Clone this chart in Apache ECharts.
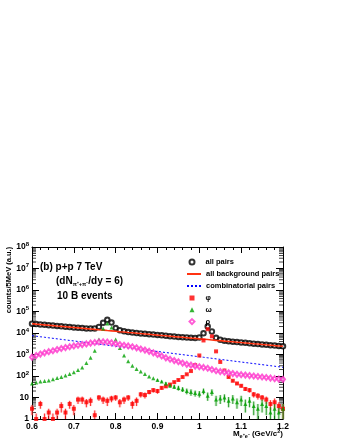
<!DOCTYPE html>
<html><head><meta charset="utf-8">
<script src="https://cdn.jsdelivr.net/npm/echarts@6/dist/echarts.min.js"></script>
<style>html,body{margin:0;padding:0;background:#fff;}#c{width:340px;height:440px;}</style>
</head><body><div id="c"></div>
<script>
const mass = [0.60,0.61,0.62,0.63,0.64,0.65,0.66,0.67,0.68,0.69,
  0.70,0.71,0.72,0.73,0.74,0.75,0.76,0.77,0.78,0.79,
  0.80,0.81,0.82,0.83,0.84,0.85,0.86,0.87,0.88,0.89,
  0.90,0.91,0.92,0.93,0.94,0.95,0.96,0.97,0.98,0.99,
  1.00,1.01,1.02,1.03,1.04,1.05,1.06,1.07,1.08,1.09,
  1.10,1.11,1.12,1.13,1.14,1.15,1.16,1.17,1.18,1.19,1.20];
const allPairs = [27000,25900,24900,23900,23000,22100,21200,20400,19600,18800,
  18200,17500,16900,16300,16000,16200,19100,29600,41000,30500,
  17000,13500,12000,11100,10500,10000,9600,9200,8800,8450,
  8100,7760,7450,7140,6850,6600,6400,6200,6000,5900,
  6250,9650,19950,11750,5950,4850,4400,4150,3960,3790,
  3630,3480,3330,3190,3070,2950,2830,2720,2610,2510,2410];
const allBackground = [26900,25800,24800,23800,22900,22000,21100,20300,19500,18700,
  18000,17300,16600,15900,15300,14700,14100,13600,13000,12500,
  12000,11500,11100,10600,10200,9800,9400,9050,8700,8350,
  8000,7700,7400,7100,6800,6550,6300,6050,5800,5600,
  5350,5150,4950,4750,4550,4400,4200,4050,3900,3740,
  3590,3450,3310,3180,3060,2940,2820,2710,2600,2500,2400];
const combinatorial = [7500,7090,6700,6340,5990,5660,5350,5060,4780,4520,
  4270,4040,3810,3600,3410,3220,3040,2880,2720,2570,
  2430,2300,2170,2050,1940,1830,1730,1640,1550,1460,
  1380,1310,1230,1170,1100,1040,985,930,880,830,
  785,743,702,664,627,593,560,530,500,473,
  447,423,399,378,357,337,319,301,285,269,254];
const phi = [3,1,5,1,2,1,2,4,2,5,
  3,8,8,6,7,1.5,10,8,7,9,
  10,6,8,10,5,7,14,13,18,22,
  20,28,33,40,52,65,90,120,170,320,
  900,4500,15000,7000,1400,450,180,90,60,45,
  35,25,22,14,12,10,8,5,6,4,3];
const phiErr = [1.5,0.8,2,0.8,1,0.8,1,2,1,2,
  1.5,3,3,2.5,3,1,3,3,3,3,
  3,2.5,3,3,2,3,4,4,4,5,
  5,5,5,6,6,7,8,9,10,15,
  25,60,100,70,30,18,12,9,8,7,
  6,5,5,4,4,3,3,2.5,3,2,2];
const omega = [45,50,55,58,62,70,80,90,105,125,
  150,190,250,400,700,1500,5000,16000,28000,18000,
  5000,2000,900,480,300,210,160,125,95,78,
  65,55,45,36,32,28,24,20,18,16,
  15,20,12,18,8,9,10,7,9,6,
  8,5,7,4,3,5,4,2,3,2,3];
const omegaErr = [0,0,0,0,0,0,0,0,0,0,
  0,0,0,0,0,0,0,0,0,0,
  0,0,0,0,0,0,0,0,0,0,
  6,6,8,8,7,7,6,6,6,5,
  5,6,5,6,4,4,4,3.5,4,3,
  4,3,3.5,2.5,2,3,2.5,1.5,2,1.5,2];
const rho = [750,900,1050,1200,1350,1500,1700,1900,2100,2300,
  2500,2700,2900,3100,3400,3600,3800,3900,3800,3500,
  3200,2900,2700,2500,2300,2050,1800,1600,1400,1200,
  1000,850,700,600,520,460,400,350,320,290,
  270,250,230,200,175,160,150,140,130,120,
  115,110,105,100,95,90,85,80,75,72,70];
const seriesNames = ['all pairs','all background pairs','combinatorial pairs','φ','ω','ρ'];

const FONT = '"Liberation Sans", Arial, Helvetica, sans-serif';
const pairs = arr => mass.map((m, i) => [m, arr[i]]);

// log minor ticks (2..9 x 10^k)
const minorVals = [];
for (let k = 0; k < 8; k++) for (let j = 2; j <= 9; j++) minorVals.push(j * Math.pow(10, k));

function errSeries(vals, errs, lineColor, boxColor) {
  return {
    type: 'custom', silent: true, z: 1, xAxisIndex: 0, yAxisIndex: 0,
    data: mass.map((m, i) => [m, vals[i], errs[i]]),
    renderItem(params, api) {
      const m = api.value(0), v = api.value(1), e = api.value(2);
      if (!e) return null;
      const lo = Math.max(v - e, 1), hi = v + e;
      const p1 = api.coord([m, lo]), p2 = api.coord([m, hi]);
      return {type: 'group', children: [
        {type: 'rect', shape: {x: p1[0] - 1.5, y: p2[1], width: 3, height: p1[1] - p2[1]}, style: {fill: boxColor}},
        {type: 'line', shape: {x1: p1[0], y1: p1[1], x2: p2[0], y2: p2[1]}, style: {stroke: lineColor, lineWidth: 0.8}}
      ]};
    }
  };
}

const chart = echarts.init(document.getElementById('c'), null, {renderer: 'canvas'});
const axisCommon = {
  axisLine: {show: true, onZero: false, lineStyle: {color: '#000', width: 1}},
  splitLine: {show: false}
};
const legendText = {fontSize: 7.5, fontWeight: 'bold', fontFamily: FONT, color: '#000', lineHeight: 10};
const option = {
  animation: false,
  backgroundColor: '#fff',
  grid: {left: 32, right: 57, top: 247, bottom: 21, containLabel: false},
  xAxis: [
    Object.assign({
      type: 'value', min: 0.6, max: 1.2, interval: 0.1, position: 'bottom',
      axisTick: {show: true, inside: true, length: 6, lineStyle: {color: '#000'}},
      minorTick: {show: true, splitNumber: 5, length: 3, lineStyle: {color: '#000'}},
      axisLabel: {fontSize: 8.5, fontWeight: 'bold', fontFamily: FONT, color: '#000', margin: 3,
        formatter: v => String(Math.round(v * 10) / 10)}
    }, axisCommon),
    Object.assign({
      type: 'value', min: 0.6, max: 1.2, interval: 0.1, position: 'top',
      axisTick: {show: true, inside: true, length: 6, lineStyle: {color: '#000'}},
      minorTick: {show: true, splitNumber: 5, length: 3, lineStyle: {color: '#000'}},
      axisLabel: {show: false}
    }, axisCommon)
  ],
  yAxis: [
    Object.assign({
      type: 'log', logBase: 10, min: 1, max: 1e8, splitNumber: 8, position: 'left',
      axisTick: {show: true, inside: true, length: 7, lineStyle: {color: '#000'}},
      axisLabel: {fontSize: 8.5, fontWeight: 'bold', fontFamily: FONT, color: '#000', margin: 3,
        formatter: v => {
          const n = Math.round(Math.log10(v));
          if (n === 0) return '1';
          if (n === 1) return '10';
          return '10{s|' + n + '}';
        },
        rich: {s: {fontSize: 6, fontWeight: 'bold', fontFamily: FONT, verticalAlign: 'bottom', padding: [0, 0, 6, 0]}}
      }
    }, axisCommon),
    Object.assign({
      type: 'log', logBase: 10, min: 1, max: 1e8, splitNumber: 8, position: 'right',
      axisTick: {show: true, inside: true, length: 7, lineStyle: {color: '#000'}},
      axisLabel: {show: false}
    }, axisCommon)
  ],
  legend: [
    {left: 183.5, top: 252, orient: 'vertical', itemWidth: 5, itemHeight: 5, itemGap: 2,
      textStyle: Object.assign({padding: [0, 0, 0, 6]}, legendText), data: [seriesNames[0]]},
    {left: 181, top: 264, orient: 'vertical', itemWidth: 14, itemHeight: 5, itemGap: 2,
      itemStyle: {opacity: 0},
      textStyle: Object.assign({padding: [0, 0, 0, 0]}, legendText), data: [seriesNames[1], seriesNames[2]]},
    {left: 183.5, top: 288, orient: 'vertical', itemWidth: 5, itemHeight: 5, itemGap: 1.8,
      textStyle: Object.assign({padding: [0, 0, 0, 6]}, legendText), data: [seriesNames[3], seriesNames[4], seriesNames[5]]}
  ],
  series: [
    {
      type: 'custom', silent: true, z: 0,
      data: minorVals.map(v => [v]),
      renderItem(params, api) {
        const v = api.value(0);
        const a = api.coord([0.6, v]), b = api.coord([1.2, v]);
        return {type: 'group', children: [
          {type: 'line', shape: {x1: a[0], y1: a[1], x2: a[0] + 4, y2: a[1]}, style: {stroke: '#444', lineWidth: 1}},
          {type: 'line', shape: {x1: b[0], y1: b[1], x2: b[0] - 4, y2: b[1]}, style: {stroke: '#444', lineWidth: 1}}
        ]};
      },
      encode: {y: 0}
    },
    errSeries(phi, phiErr, '#ff0000', 'rgba(255,150,150,0.35)'),
    errSeries(omega, omegaErr, '#008800', 'rgba(130,210,130,0.35)'),
    {name: seriesNames[0], type: 'scatter', data: pairs(allPairs), symbol: 'emptyCircle', symbolSize: 4.5,
      itemStyle: {color: '#000', borderColor: '#000', borderWidth: 0.7}, z: 3},
    {name: seriesNames[1], type: 'line', data: pairs(allBackground), symbol: 'none', smooth: false,
      lineStyle: {color: '#ff3311', width: 1.6}, itemStyle: {color: '#ff3311'}, z: 4},
    {name: seriesNames[2], type: 'line', data: pairs(combinatorial), symbol: 'none',
      lineStyle: {color: '#0000ff', width: 1, type: [2, 2]}, itemStyle: {color: '#0000ff'}, z: 4},
    {name: seriesNames[3], type: 'scatter', data: pairs(phi), symbol: 'rect', symbolSize: 4,
      itemStyle: {color: '#ff0000'}, z: 5},
    {name: seriesNames[4], type: 'scatter', data: pairs(omega), symbol: 'triangle', symbolSize: 4,
      itemStyle: {color: '#00a000'}, z: 5},
    {name: seriesNames[5], type: 'scatter', data: pairs(rho), symbol: 'emptyDiamond', symbolSize: [4, 5],
      itemStyle: {color: '#ff33cc', borderColor: '#ff33cc', borderWidth: 0.9}, z: 5}
  ],
  graphic: [
    {type: 'text', left: 40, top: 262, style: {text: '(b) p+p 7 TeV', font: 'bold 10px ' + FONT, fill: '#000'}},
    {type: 'text', left: 56, top: 276, style: {
      text: '(dN{sub|π⁺+π⁻}/dy = 6)', font: 'bold 10px ' + FONT, fill: '#000',
      rich: {sub: {fontSize: 5.5, fontWeight: 'bold', fontFamily: FONT, verticalAlign: 'top', padding: [6, 0, 0, 0]}}}},
    {type: 'text', left: 57, top: 291, style: {text: '10 B events', font: 'bold 10px ' + FONT, fill: '#000'}},
    {type: 'text', x: 9, y: 280, rotation: Math.PI / 2, style: {
      text: 'counts/5MeV (a.u.)', font: 'bold 7.5px ' + FONT, fill: '#000', align: 'center', verticalAlign: 'middle'}},
    {type: 'text', right: 57, top: 428, style: {
      text: 'M{sub|e⁺e⁻} (GeV/c{sup|2})', font: 'bold 8px ' + FONT, fill: '#000',
      rich: {sub: {fontSize: 5.5, fontWeight: 'bold', fontFamily: FONT, padding: [5, 0, 0, 0]},
             sup: {fontSize: 5.5, fontWeight: 'bold', fontFamily: FONT, padding: [0, 0, 5, 0]}}}}
  ]
};
chart.setOption(option);
</script>
</body></html>
